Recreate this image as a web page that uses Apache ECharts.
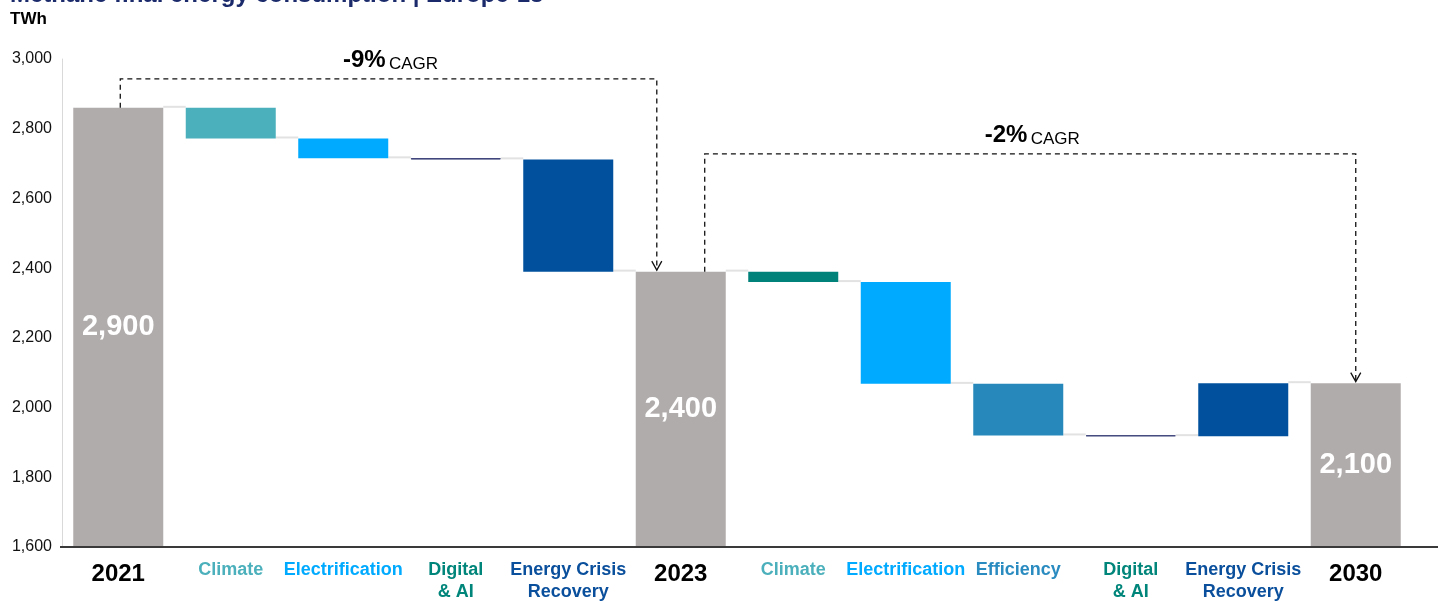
<!DOCTYPE html>
<html>
<head>
<meta charset="utf-8">
<script src="https://cdn.jsdelivr.net/npm/echarts@6/dist/echarts.min.js"></script>
<style>
  html, body { margin: 0; padding: 0; background: #ffffff; }
  #chart { width: 1438px; height: 601px; }
</style>
</head>
<body>
<div id="chart"></div>
<script>
// ---- data ----
const categories = ['2021', 'Climate', 'Electrification', 'Digital\n& AI', 'Energy Crisis\nRecovery', '2023',
                    'Climate', 'Electrification', 'Efficiency', 'Digital\n& AI', 'Energy Crisis\nRecovery', '2030'];
const kinds = ['total', 'climate', 'electrification', 'digital', 'recovery', 'total',
               'climate2', 'electrification', 'efficiency', 'digital', 'recovery', 'total'];
// totals in TWh (null where the step is a change)
const totals = [2860, null, null, null, null, 2390, null, null, null, null, null, 2070];
// changes in TWh (null where the step is a total)
const deltas = [null, -88, -57, -3, -322, null, -30, -292, -148, -2, 152, null];
const yAxisRange = { min: 1600, max: 3000, step: 200 };
// CAGR annotations: [from category index, to category index]
const cagrSpans = [[0, 5], [5, 11]];
const cagrLabels = ['-9%', '-2%'];

// ---- styles ----
const FONT = 'Arial, "Liberation Sans", sans-serif';
const barColors = {
  total: '#b0acab', climate: '#4bb0bc', climate2: '#00827b', electrification: '#00aaff',
  digital: '#1b2262', recovery: '#00509e', efficiency: '#2789bb'
};
const labelColors = {
  climate: '#4bb0bb', climate2: '#4bb0bb', electrification: '#00aaff', digital: '#00857a',
  recovery: '#0a4f9c', efficiency: '#2a8bc0'
};

// running levels for the waterfall
const levels = [];
const base = [];
const height = [];
categories.forEach((c, i) => {
  if (totals[i] !== null) {
    levels.push(totals[i]);
    base.push(0);
    height.push(totals[i]);
  } else {
    const start = levels[i - 1];
    const end = start + deltas[i];
    levels.push(end);
    base.push(Math.min(start, end));
    height.push(Math.abs(deltas[i]));
  }
});

const fmt = v => v.toLocaleString('en-US');

const chart = echarts.init(document.getElementById('chart'), null, { renderer: 'canvas' });

const richCat = {
  total: { fontFamily: FONT, fontSize: 24, fontWeight: 'bold', color: '#000', lineHeight: 30 }
};
Object.keys(labelColors).forEach(k => {
  richCat[k] = { fontFamily: FONT, fontSize: 18, fontWeight: 'bold', color: labelColors[k], lineHeight: 22 };
});

// bracket geometry (in axis units / band fractions)
const bracketLayout = [
  { level: 2943, fromShift: 0.018, toShift: -0.213 },
  { level: 2728, fromShift: 0.213, toShift: 0 }
];

const option = {
  animation: false,
  backgroundColor: '#ffffff',
  grid: { left: 62, right: 26, top: 59, bottom: 53, containLabel: false },
  xAxis: {
    type: 'category',
    data: categories,
    axisTick: { show: false },
    axisLine: { show: false },
    axisLabel: {
      margin: 12,
      interval: 0,
      formatter: (v, i) => v.split('\n').map(l => `{${kinds[i]}|${l}}`).join('\n'),
      rich: richCat
    }
  },
  yAxis: {
    type: 'value',
    min: yAxisRange.min,
    max: yAxisRange.max,
    interval: yAxisRange.step,
    splitLine: { show: false },
    axisTick: { show: false },
    axisLine: { show: true, lineStyle: { color: '#d9d9d9', width: 1 } },
    axisLabel: {
      margin: 10,
      fontFamily: FONT,
      fontSize: 16,
      color: '#111',
      formatter: v => fmt(v)
    }
  },
  series: [
    {
      type: 'bar',
      stack: 'wf',
      barWidth: '80%',
      itemStyle: { color: 'transparent' },
      emphasis: { disabled: true },
      data: base
    },
    {
      type: 'bar',
      stack: 'wf',
      barWidth: '80%',
      data: height.map((h, i) => ({
        value: h,
        itemStyle: kinds[i] === 'digital'
          ? { color: barColors.digital, borderColor: barColors.digital, borderWidth: 0.8 }
          : { color: barColors[kinds[i]] },
        label: totals[i] !== null ? {
          show: true,
          position: 'inside',
          formatter: () => fmt(Math.round(totals[i] / 100) * 100),
          fontFamily: FONT,
          fontSize: 29,
          fontWeight: 'bold',
          color: '#ffffff'
        } : { show: false }
      }))
    },
    {
      // connectors between consecutive bars
      type: 'custom',
      silent: true,
      z: 1,
      data: levels.slice(0, -1).map((lv, i) => [i, lv]),
      renderItem: (params, api) => {
        const i = api.value(0);
        const p = api.coord([i, api.value(1)]);
        const band = api.size([1, 0])[0];
        const bw = band * 0.8;
        return {
          type: 'line',
          shape: { x1: p[0] + bw / 2, y1: p[1] - 1, x2: p[0] + band - bw / 2, y2: p[1] - 1 },
          style: { stroke: '#e2e2e2', lineWidth: 2 }
        };
      }
    },
    {
      // CAGR brackets
      type: 'custom',
      silent: true,
      z: 5,
      data: cagrSpans.map((s, k) => [s[0], s[1], k]),
      renderItem: (params, api) => {
        const k = api.value(2);
        const from = api.value(0), to = api.value(1);
        const lay = bracketLayout[k];
        const band = api.size([1, 0])[0];
        const a = api.coord([from, levels[from]]);
        const b = api.coord([to, levels[to]]);
        const top = api.coord([from, lay.level])[1];
        const x1 = a[0] + lay.fromShift * band;
        const x2 = b[0] + lay.toShift * band;
        const yEnd = b[1] - 1.5;
        return {
          type: 'group',
          children: [
            {
              type: 'polyline',
              shape: { points: [[x1, a[1]], [x1, top], [x2, top], [x2, yEnd]] },
              style: { stroke: '#111', lineWidth: 1.3, lineDash: [5, 4], fill: null }
            },
            {
              type: 'polyline',
              shape: { points: [[x2 - 5, yEnd - 9], [x2, yEnd], [x2 + 5, yEnd - 9]] },
              style: { stroke: '#111', lineWidth: 1.3, fill: null }
            },
            {
              type: 'text',
              x: (x1 + x2) / 2 + 2,
              y: top - 19,
              style: {
                text: `{big|${cagrLabels[k]}} {small|CAGR}`,
                align: 'center',
                verticalAlign: 'middle',
                rich: {
                  big: { fontFamily: FONT, fontSize: 24, fontWeight: 'bold', fill: '#000', verticalAlign: 'bottom', lineHeight: 26 },
                  small: { fontFamily: FONT, fontSize: 17, fill: '#000', verticalAlign: 'bottom', lineHeight: 22 }
                }
              }
            }
          ]
        };
      }
    }
  ]
};

chart.setOption(option);

// title, unit and baseline across the full width
const y0 = chart.convertToPixel({ yAxisIndex: 0 }, yAxisRange.min);
chart.setOption({
  graphic: [
    {
      type: 'text', left: 10, top: -17, silent: true,
      style: { text: 'Methane final energy consumption | Europe-18', font: `bold 24px ${FONT}`, fill: '#1b2a6b' }
    },
    {
      type: 'text', left: 10, top: 11, silent: true,
      style: { text: 'TWh', font: `bold 17px ${FONT}`, fill: '#000' }
    },
    {
      type: 'line', silent: true, z: 10,
      shape: { x1: 60, y1: y0, x2: chart.getWidth(), y2: y0 },
      style: { stroke: '#3a3a3a', lineWidth: 2 }
    }
  ]
});
</script>
</body>
</html>
